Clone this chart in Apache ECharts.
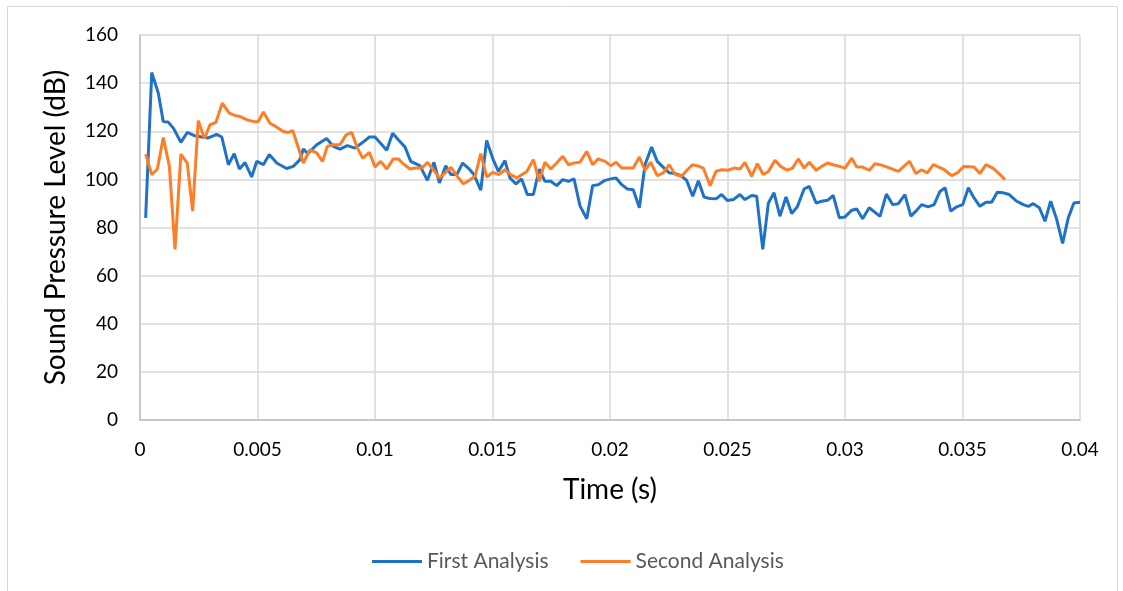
<!DOCTYPE html>
<html><head><meta charset="utf-8">
<script src="https://cdn.jsdelivr.net/npm/echarts@6/dist/echarts.min.js"></script>
<style>html,body{margin:0;padding:0;background:#fff}#c{width:1123px;height:591px}</style>
</head><body><div id="c"></div>
<script>
const firstTime = [0.00024,0.00050,0.00078,0.00099,0.00120,0.00142,0.00174,0.00201,0.00234,0.00263,0.00291,0.00326,0.00348,0.00376,0.00401,0.00423,0.00447,0.00475,0.00497,0.00525,0.00550,0.00582,0.00624,0.00652,0.00681,0.00695,0.00714,0.00752,0.00794,0.00823,0.00851,0.00882,0.00915,0.00948,0.00976,0.01000,0.01050,0.01075,0.01099,0.01128,0.01152,0.01191,0.01223,0.01251,0.01274,0.01301,0.01323,0.01348,0.01373,0.01397,0.01421,0.01450,0.01475,0.01503,0.01525,0.01553,0.01574,0.01600,0.01624,0.01648,0.01674,0.01699,0.01723,0.01748,0.01773,0.01799,0.01823,0.01847,0.01872,0.01901,0.01926,0.01950,0.01979,0.02003,0.02026,0.02050,0.02074,0.02099,0.02125,0.02149,0.02177,0.02201,0.02227,0.02252,0.02277,0.02301,0.02326,0.02352,0.02376,0.02400,0.02426,0.02451,0.02475,0.02499,0.02525,0.02553,0.02574,0.02603,0.02624,0.02650,0.02674,0.02698,0.02723,0.02749,0.02773,0.02797,0.02826,0.02848,0.02877,0.02901,0.02926,0.02950,0.02976,0.03000,0.03029,0.03050,0.03075,0.03103,0.03128,0.03149,0.03176,0.03203,0.03227,0.03255,0.03280,0.03302,0.03326,0.03354,0.03379,0.03404,0.03426,0.03450,0.03475,0.03501,0.03525,0.03549,0.03574,0.03600,0.03624,0.03648,0.03674,0.03699,0.03731,0.03759,0.03780,0.03801,0.03827,0.03851,0.03875,0.03901,0.03926,0.03950,0.03974,0.04000];
const firstLevel = [84,144.4,135.8,124,123.8,121.3,115.4,119.5,118.1,117.6,117.2,118.7,117.6,106.1,110.7,104.3,107,101,107.5,106.1,110.3,106.8,104.5,105.4,108.2,112.6,110.7,114.4,117,113.7,112.6,114,113,115.4,117.6,117.6,112.1,119.2,116.5,113.4,107.5,105.7,99.6,107.1,98.5,105.7,102,102,106.8,104.7,102,95.5,116.2,108.2,103.3,107.8,100.6,98.1,100.2,93.7,93.7,104.3,99.2,99.2,97.4,99.9,99.2,100.2,89.1,83.6,97.4,97.8,99.6,100.2,100.6,97.8,96,95.7,88.2,106.1,113.4,107.5,105,102.7,102.4,101.6,99.6,93,99.4,92.7,92,91.9,93.7,91.2,91.6,93.7,91.6,93.3,93,70.9,90.2,94.4,84.7,92.7,85.8,88.6,96,97.1,90.2,90.9,91.3,93.3,84,84.4,87.2,87.7,83.6,88.2,86.3,84.6,93.9,89.5,89.9,93.7,84.7,86.8,89.5,88.6,89.5,95,96.5,86.8,88.6,89.5,96.5,92.3,88.8,90.5,90.5,94.6,94.4,93.7,90.9,89.5,88.8,89.9,88.2,82.6,90.9,83.3,73.4,84,90.2,90.5];
const secondTime = [0.00024,0.00050,0.00074,0.00099,0.00125,0.00149,0.00174,0.00201,0.00224,0.00248,0.00274,0.00298,0.00323,0.00350,0.00380,0.00409,0.00426,0.00454,0.00489,0.00503,0.00525,0.00553,0.00582,0.00610,0.00631,0.00650,0.00695,0.00723,0.00752,0.00777,0.00797,0.00823,0.00851,0.00877,0.00901,0.00925,0.00948,0.00976,0.01000,0.01024,0.01050,0.01078,0.01099,0.01120,0.01149,0.01174,0.01199,0.01224,0.01248,0.01274,0.01301,0.01323,0.01352,0.01376,0.01401,0.01426,0.01450,0.01475,0.01501,0.01528,0.01553,0.01577,0.01603,0.01646,0.01674,0.01699,0.01723,0.01748,0.01773,0.01799,0.01823,0.01847,0.01872,0.01901,0.01926,0.01950,0.01979,0.02003,0.02026,0.02050,0.02074,0.02099,0.02125,0.02149,0.02173,0.02201,0.02227,0.02252,0.02277,0.02305,0.02329,0.02352,0.02376,0.02397,0.02426,0.02451,0.02475,0.02503,0.02528,0.02553,0.02574,0.02603,0.02627,0.02652,0.02674,0.02702,0.02726,0.02754,0.02777,0.02801,0.02826,0.02848,0.02877,0.02901,0.02926,0.02950,0.02976,0.03000,0.03029,0.03050,0.03075,0.03103,0.03128,0.03149,0.03180,0.03227,0.03274,0.03302,0.03326,0.03350,0.03376,0.03418,0.03454,0.03478,0.03506,0.03549,0.03574,0.03600,0.03629,0.03652,0.03681];
const secondLevel = [110.5,102,104.3,117.4,105.4,70.9,110.5,106.8,86.8,124.4,117,122.7,123.7,131.7,127.5,126.4,126.1,124.8,123.9,124,128,123.3,121.7,119.9,119.5,120.3,106.8,112.3,111,107.5,113.7,114.4,114.4,118.5,119.5,113,108.8,111.2,105.2,107.5,104.3,108.5,108.5,106.5,104.3,104.7,104.7,107.1,104,100.6,102.9,105,101,98.2,99.6,101.3,110.7,101,102.9,102,104,102,100.6,103.3,108.2,99.2,107.1,104.3,106.8,109.6,106.1,106.8,107.1,111.6,106.1,108.5,107.5,105.7,107.1,104.7,104.7,104.7,109.3,103.8,107.1,101.6,102.7,106.1,102,101.3,104,106.1,105.5,104.7,97.4,103.3,104,103.8,104.7,104.3,107.1,101.3,106.5,102,103.3,107.9,105.4,103.8,104.7,108.5,104.7,107.1,103.8,105.4,106.8,106.1,105.4,104.7,108.8,105.1,105.1,103.8,106.5,106.1,105.1,103.3,107.5,102.4,104,102.7,106.1,104.3,101.6,102.7,105.4,105.1,102.4,106.1,104.7,102.7,99.9];
const seriesNames = ['First Analysis','Second Analysis'];
const xTitle = 'Time (s)';
const yTitle = 'Sound Pressure Level (dB)';

const pairs = (t, v) => t.map((x, i) => [x, v[i]]);
const chart = echarts.init(document.getElementById('c'), null, {renderer:'canvas'});
const font = 'Lato, "Open Sans", sans-serif';
chart.setOption({
  animation: false,
  backgroundColor: '#fff',
  textStyle: {fontFamily: font},
  graphic: [{type:'rect', shape:{x:7.5,y:6.5,width:1110,height:600}, style:{fill:'none', stroke:'#d9d9d9', lineWidth:1}}],
  grid: {left:140, right:43, top:35, bottom:171, containLabel:false},
  legend: {
    data: seriesNames, bottom: 14, left: 367, itemWidth: 50, itemHeight: 3, itemGap: 32,
    icon: 'rect',
    textStyle: {color:'#595959', fontSize:21, fontFamily: font}
  },
  xAxis: {
    type: 'value', min: 0, max: 0.04, interval: 0.005,
    name: xTitle, nameLocation: 'middle', nameGap: 56,
    nameTextStyle: {fontSize: 28, color: '#000', fontFamily: font},
    axisLine: {show: true, lineStyle: {color: '#bfbfbf', width: 1.5}},
    axisTick: {show: false},
    axisLabel: {fontSize: 19, color: '#000', margin: 20, fontFamily: font},
    splitLine: {show: true, lineStyle: {color: '#d9d9d9', width: 1.5}}
  },
  yAxis: {
    type: 'value', min: 0, max: 160, interval: 20,
    name: yTitle, nameLocation: 'middle', nameGap: 70, nameRotate: 90,
    nameTextStyle: {fontSize: 28, color: '#000', fontFamily: font},
    axisLine: {show: true, lineStyle: {color: '#bfbfbf', width: 1.5}},
    axisTick: {show: false},
    axisLabel: {fontSize: 19, color: '#000', margin: 22, fontFamily: font},
    splitLine: {show: true, lineStyle: {color: '#d9d9d9', width: 1.5}}
  },
  series: [
    {name: seriesNames[0], type: 'line', data: pairs(firstTime, firstLevel), showSymbol: false, symbol: 'none',
     lineStyle: {color: '#1f72c8', width: 3}, itemStyle: {color: '#1f72c8'}},
    {name: seriesNames[1], type: 'line', data: pairs(secondTime, secondLevel), showSymbol: false, symbol: 'none',
     lineStyle: {color: '#fd7e27', width: 3}, itemStyle: {color: '#fd7e27'}}
  ]
});
</script></body></html>
